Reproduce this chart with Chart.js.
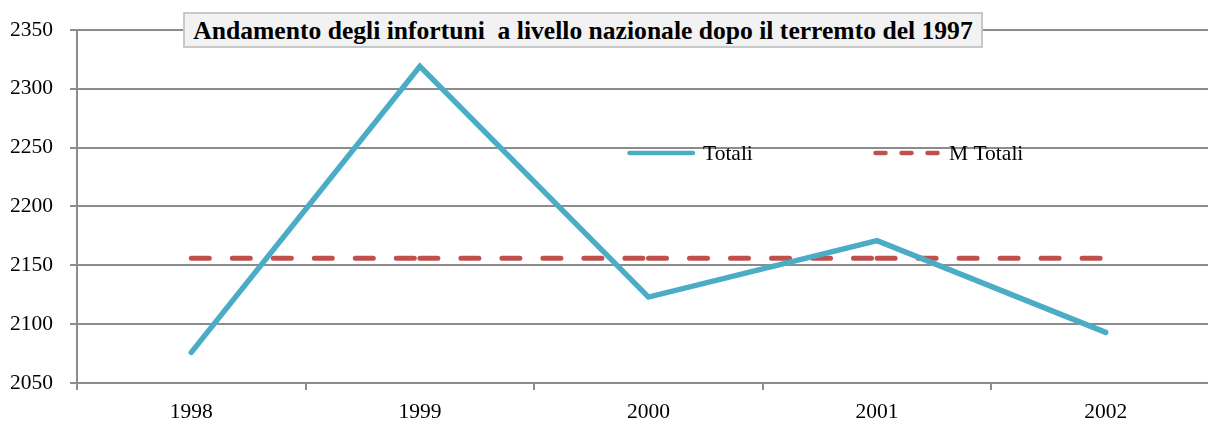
<!DOCTYPE html>
<html>
<head>
<meta charset="utf-8">
<script src="https://cdn.jsdelivr.net/npm/chart.js@4/dist/chart.umd.min.js"></script>
<style>
    body { margin: 0; background: #ffffff; overflow: hidden; }
    #wrap { position: relative; width: 1220px; height: 427px; }
    #titolo {
        position: absolute; left: 183px; top: 12px; width: 796px; height: 32px;
        background: #f2f2f2; border: 2px solid #c8c8c8;
        font: bold 25.6px "Liberation Serif", "Times New Roman", serif;
        color: #000; text-align: center; line-height: 33px; white-space: pre;
    }
</style>
</head>
<body>
<div id="wrap">
    <canvas id="myLineChart"></canvas>
    <div id="titolo">Andamento degli infortuni  a livello nazionale dopo il terremto del 1997</div>
</div>
<script>
// dati
var anni = ['1998', '1999', '2000', '2001', '2002'];
var totali = [2076, 2319, 2123, 2171, 2093];
var mediaTotali = [2156, 2156, 2156, 2156, 2156];
var yTicks = [2050, 2100, 2150, 2200, 2250, 2300, 2350];

var serif = '"Liberation Serif", "Times New Roman", serif';
var grigio = '#8c8c8c';

// legenda disegnata dentro l'area del grafico
var legendaInterna = {
    id: 'legendaInterna',
    afterDraw: function(chart) {
        var ctx = chart.ctx;
        var pos = [627, 873];
        var y = 153;
        ctx.save();
        ctx.font = '21.5px ' + serif;
        ctx.textBaseline = 'middle';
        chart.data.datasets.forEach(function(ds, i) {
            var x = pos[i];
            ctx.beginPath();
            ctx.lineWidth = 4.5;
            ctx.strokeStyle = ds.borderColor;
            ctx.lineCap = 'round';
            ctx.setLineDash(ds.borderDash ? [10, 16] : []);
            ctx.moveTo(x + 2.5, y);
            ctx.lineTo(x + 66, y);
            ctx.stroke();
            ctx.setLineDash([]);
            ctx.fillStyle = '#000000';
            ctx.fillText(ds.label, x + 76, y + 1);
        });
        ctx.restore();
    }
};

var ctxLine = document.getElementById('myLineChart');
var myLineChart = new Chart(ctxLine.getContext('2d'), {
    type: 'line',
    data: {
        labels: anni,
        datasets: [{
            label: 'Totali',
            data: totali,
            borderColor: '#4bacc6',
            borderWidth: 5.5,
            borderCapStyle: 'round',
            borderJoinStyle: 'miter',
            pointRadius: 0,
            tension: 0,
            fill: false
        }, {
            label: 'M Totali',
            data: mediaTotali,
            borderColor: '#c0504d',
            borderWidth: 5,
            borderDash: [18, 23],
            borderCapStyle: 'round',
            pointRadius: 0,
            fill: false,
            // il tratteggio riparte ad ogni anno
            segment: {
                borderDashOffset: function(c) { return c.p0DataIndex * 0.001; }
            }
        }]
    },
    options: {
        responsive: true,
        maintainAspectRatio: false,
        animation: false,
        layout: { padding: { top: 29, right: 0, bottom: 0, left: 0 } },
        plugins: {
            legend: { display: false },
            tooltip: { enabled: false },
            title: { display: false }
        },
        scales: {
            x: {
                offset: true,
                grid: {
                    offset: true,
                    drawOnChartArea: false,
                    drawTicks: true,
                    tickLength: 7,
                    color: grigio,
                    lineWidth: 2
                },
                border: { color: grigio, width: 2 },
                ticks: {
                    color: '#000000',
                    font: { family: serif, size: 21.5 },
                    padding: 9,
                    maxRotation: 0
                },
                afterFit: function(scale) { scale.height = 44; }
            },
            y: {
                min: 2050,
                max: 2350,
                afterBuildTicks: function(scale) {
                    scale.ticks = yTicks.map(function(v) { return { value: v }; });
                },
                grid: {
                    color: grigio,
                    lineWidth: 2,
                    tickLength: 7
                },
                border: { color: grigio, width: 2 },
                ticks: {
                    color: '#000000',
                    font: { family: serif, size: 21.5 },
                    padding: 17,
                    callback: function(v) { return String(v); }
                },
                afterFit: function(scale) { scale.width = 77; }
            }
        }
    },
    plugins: [legendaInterna]
});
</script>
</body>
</html>
